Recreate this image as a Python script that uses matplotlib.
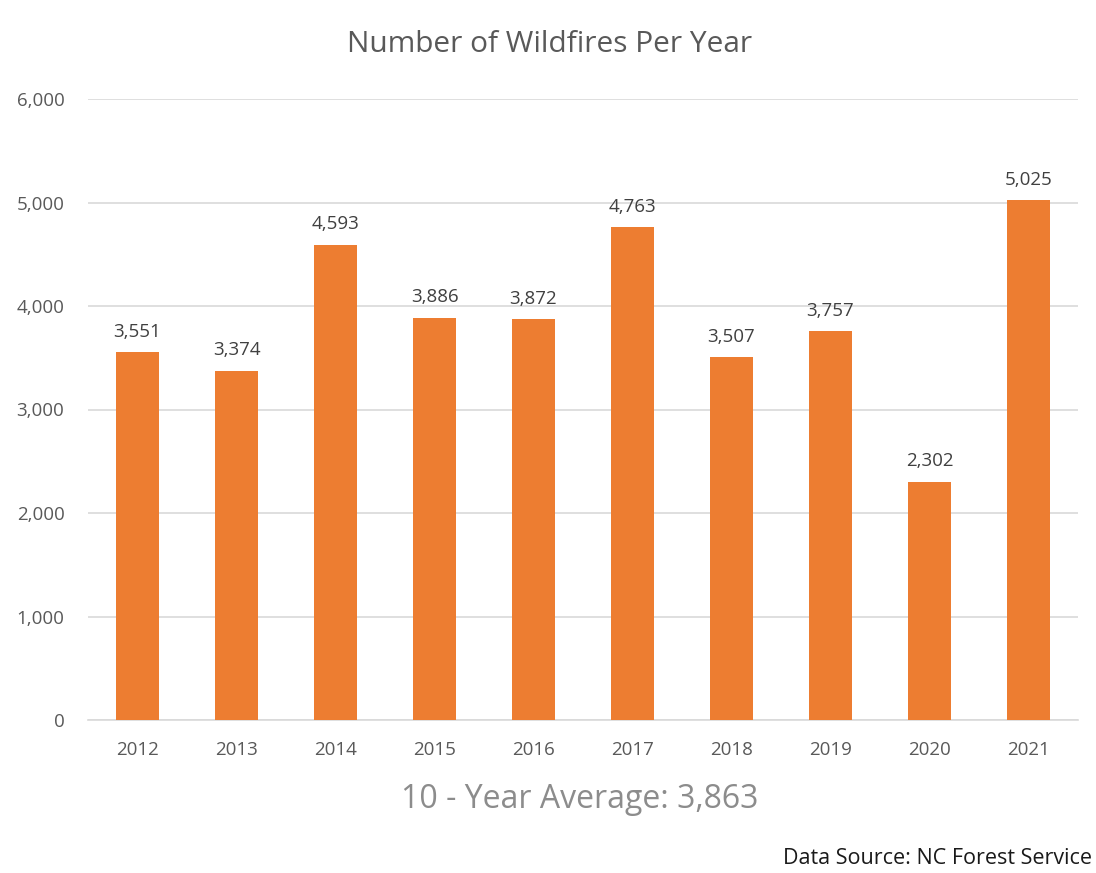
import matplotlib.pyplot as plt
from matplotlib.ticker import FuncFormatter

years = ['2012', '2013', '2014', '2015', '2016', '2017', '2018', '2019', '2020', '2021']
fires = [3551, 3374, 4593, 3886, 3872, 4763, 3507, 3757, 2302, 5025]
y_ticks = [0, 1000, 2000, 3000, 4000, 5000, 6000]

plt.rcParams['font.family'] = ['Open Sans', 'DejaVu Sans']

fig = plt.figure(figsize=(10.96, 8.73), dpi=100)
ax = fig.add_axes([88 / 1096, 1 - 720 / 873, 990 / 1096, 621 / 873])

x = list(range(len(years)))
bars = ax.bar(x, fires, width=0.43, color='#ED7D31', zorder=3)
for xi, v in zip(x, fires):
    ax.text(xi, v + 110, f'{v:,}', ha='center', va='bottom', fontsize=13.5, color='#404040')

ax.set_xlim(-0.5, len(years) - 0.5)
ax.set_ylim(0, 6000)
ax.set_yticks(y_ticks)
ax.yaxis.set_major_formatter(FuncFormatter(lambda v, p: f'{int(v):,}'))
ax.set_xticks(x)
ax.set_xticklabels(years)
ax.grid(axis='y', color='#d9d9d9', linewidth=1.2, zorder=0)
for s in ['top', 'right', 'left']:
    ax.spines[s].set_visible(False)
ax.spines['bottom'].set_color('#d9d9d9')
ax.spines['bottom'].set_linewidth(1.2)
ax.tick_params(axis='both', length=0, labelsize=13.5, labelcolor='#595959')
ax.tick_params(axis='y', pad=17)
ax.tick_params(axis='x', pad=15)

fig.text(550 / 1096, 1 - 45 / 873, 'Number of Wildfires Per Year', ha='center', va='center',
         fontsize=21.5, color='#595959')
fig.text(580 / 1096, 1 - 800 / 873, '10 - Year Average: 3,863', ha='center', va='center',
         fontsize=23, color='#8c8c8c')
fig.text(1092 / 1096, 1 - 858 / 873, 'Data Source: NC Forest Service', ha='right', va='center',
         fontsize=15.5, color='#1a1a1a')

fig.savefig('out.png', dpi=100)
